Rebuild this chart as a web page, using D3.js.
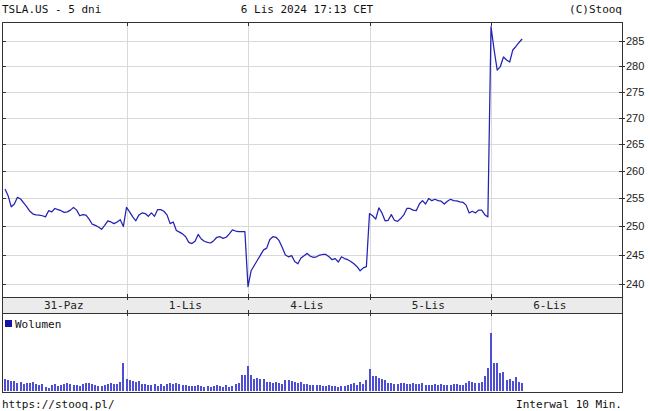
<!DOCTYPE html>
<html><head><meta charset="utf-8">
<script src="https://cdn.jsdelivr.net/npm/d3@7"></script>
<style>body{margin:0;background:#fff}svg{display:block}</style>
</head><body>
<script>
const dayLabels = ["31-Paz","1-Lis","4-Lis","5-Lis","6-Lis"];
const barsPerDay = 39;
const yTicks = [240,245,250,255,260,265,270,275,280,285];
const price = [
// 31-Paz
256.7,255.5,253.5,254.0,255.2,254.9,254.2,253.5,252.7,252.2,252.05,252.0,251.9,251.7,252.8,252.6,253.2,253.0,252.8,252.5,
252.6,252.9,253.4,252.9,251.9,252.1,252.0,251.3,250.4,250.2,249.9,249.5,250.2,251.0,250.8,250.5,250.8,251.2,250.0,
// 1-Lis
253.4,252.6,251.7,251.0,252.05,252.4,252.3,251.8,252.4,251.8,253.0,253.0,252.7,252.05,250.5,250.8,249.3,249.0,248.7,248.2,
247.2,247.0,247.4,248.6,247.8,247.4,247.2,247.1,247.5,248.1,248.2,247.9,248.1,248.7,249.4,249.2,249.1,249.1,249.1,
// 4-Lis
239.6,242.3,243.2,244.1,245.0,245.9,246.2,247.7,248.2,248.1,247.5,246.3,245.0,244.7,244.9,243.9,243.5,244.5,244.9,245.3,
244.8,244.6,244.7,245.0,245.1,245.1,244.7,244.2,244.4,243.8,244.7,244.4,244.2,243.9,243.5,243.0,242.3,242.8,243.0,
// 5-Lis
252.3,251.9,251.3,253.3,252.4,251.0,251.1,252.1,251.1,250.9,251.4,252.05,253.2,253.2,252.9,252.8,254.0,254.6,254.0,255.0,
254.6,254.85,254.6,254.5,254.0,254.5,254.85,254.6,254.55,254.4,254.3,253.8,252.4,252.7,252.4,252.9,252.9,252.1,251.7,
// 6-Lis
287.9,283.2,279.2,279.9,281.8,281.2,280.8,283.2,283.9,284.7,285.4
];
const volume = [
// 31-Paz (thousands)
1800,1650,1500,1500,1200,1350,1050,1200,1200,1350,1050,900,1050,600,450,900,1050,750,900,1050,
1200,1050,900,900,750,1050,1200,1200,1050,900,750,750,900,1050,1200,1050,1050,1350,4200,
// 1-Lis
1800,1650,1500,1350,1500,1050,1050,900,900,1050,750,1050,750,1050,1200,1050,1200,1050,900,900,
750,750,750,900,750,600,750,600,750,900,750,600,900,600,750,1050,1200,2400,2400,
// 4-Lis
3750,2400,1800,1950,1800,1800,1350,1350,1200,1350,1200,1050,1650,1650,1500,1350,1200,1350,1050,1050,
900,900,900,900,750,750,900,750,750,600,750,750,900,1050,1200,900,1350,1050,1650,
// 5-Lis
3300,2250,2250,1950,1800,1650,1200,1200,1050,1050,1200,1200,1050,1050,1200,1050,1050,1200,900,900,
900,1050,900,1050,900,900,900,1050,1050,900,900,1200,1500,1350,1200,1200,1350,2250,3450,
// 6-Lis
8700,4200,4200,2700,2850,1650,1800,1500,2100,1350,1200
];

const W = 650, H = 411;
const L = 2, R = 622;
const pTop = 22, pBot = 297, bandBot = 313, vBot = 392;
const svg = d3.select("body").append("svg").attr("width", W).attr("height", H)
  .style("font-family", "'DejaVu Sans Mono', monospace");

const x = d3.scaleLinear().domain([0, barsPerDay * 5]).range([5, 5 + barsPerDay * 5 * 3.1154]);
const y = d3.scaleLog().domain([237.85, 288.85]).range([pBot, pTop]);
const yv = d3.scaleLinear().domain([0, 11700]).range([vBot - 1, pBot + 16]);

const grid = "#d9d9d9", frame = "#333";
const dayStarts = [1, 2, 3, 4].map(d => x(d * barsPerDay));

// horizontal gridlines
svg.append("g").selectAll("line").data(yTicks).join("line")
  .attr("x1", L).attr("x2", R).attr("y1", d => Math.round(y(d)) + 0.5).attr("y2", d => Math.round(y(d)) + 0.5)
  .attr("stroke", grid);
// vertical gridlines (price + volume)
svg.append("g").selectAll("line").data(dayStarts).join("line")
  .attr("x1", d => Math.round(d) + 0.5).attr("x2", d => Math.round(d) + 0.5)
  .attr("y1", pTop).attr("y2", pBot).attr("stroke", grid);
svg.append("g").selectAll("line").data(dayStarts).join("line")
  .attr("x1", d => Math.round(d) + 0.5).attr("x2", d => Math.round(d) + 0.5)
  .attr("y1", bandBot).attr("y2", vBot).attr("stroke", grid);

// volume bars
svg.append("g").selectAll("rect").data(volume).join("rect")
  .attr("x", (d, i) => Math.round(x(i)) - 1).attr("width", 2)
  .attr("y", d => yv(d)).attr("height", d => (vBot - 1) - yv(d))
  .attr("fill", "#4e4ed2");

// price line
svg.append("path").datum(price)
  .attr("d", d3.line().x((d, i) => x(i)).y(d => y(d)))
  .attr("fill", "none").attr("stroke", "#2222b4").attr("stroke-width", 1.25)
  .attr("stroke-linejoin", "round");

// band
svg.append("rect").attr("x", L + 0.5).attr("y", pBot + 0.5).attr("width", R - L).attr("height", bandBot - pBot)
  .attr("fill", "#ebebeb").attr("stroke", frame);
// frames
svg.append("rect").attr("x", L + 0.5).attr("y", pTop + 0.5).attr("width", R - L).attr("height", pBot - pTop)
  .attr("fill", "none").attr("stroke", frame);
svg.append("rect").attr("x", L + 0.5).attr("y", bandBot + 0.5).attr("width", R - L).attr("height", vBot - bandBot)
  .attr("fill", "none").attr("stroke", frame);

// day ticks
const tk = svg.append("g").attr("stroke", frame);
dayStarts.forEach(d => {
  const xx = Math.round(d) + 0.5;
  tk.append("line").attr("x1", xx).attr("x2", xx).attr("y1", pTop).attr("y2", pTop + 4);
  tk.append("line").attr("x1", xx).attr("x2", xx).attr("y1", pBot - 3).attr("y2", pBot + 3);
  tk.append("line").attr("x1", xx).attr("x2", xx).attr("y1", bandBot - 3).attr("y2", bandBot + 3);
});
// y ticks on both sides
yTicks.forEach(v => {
  const yy = Math.round(y(v)) + 0.5;
  tk.append("line").attr("x1", R - 3).attr("x2", R + 3).attr("y1", yy).attr("y2", yy);
  tk.append("line").attr("x1", L).attr("x2", L + 4).attr("y1", yy).attr("y2", yy);
});

// y labels
svg.append("g").selectAll("text").data(yTicks).join("text")
  .attr("x", 626).attr("y", d => y(d) + 4).text(d => d)
  .style("font-family", "'Liberation Sans', Arial, sans-serif").style("font-size", "11px").attr("fill", "#222");

// day labels
svg.append("g").selectAll("text").data(dayLabels).join("text")
  .attr("x", (d, i) => x(i * barsPerDay + barsPerDay / 2) - 2).attr("y", bandBot - 4)
  .attr("text-anchor", "middle").style("font-size", "11px").attr("fill", "#222").text(d => d);

// header / footer
const t = (tx, xx, yy, anchor) => svg.append("text").attr("x", xx).attr("y", yy)
  .attr("text-anchor", anchor).style("font-size", "11px").attr("fill", "#111").text(tx);
t("TSLA.US - 5 dni", 2, 13, "start");
t("6 Lis 2024 17:13 CET", 307, 13, "middle");
t("(C)Stooq", 622, 13, "end");
t("https://stooq.pl/", 2, 408, "start");
t("Interwal 10 Min.", 622, 408, "end");

// legend
svg.append("rect").attr("x", 5).attr("y", 320).attr("width", 7).attr("height", 7).attr("fill", "#1414a8");
t("Wolumen", 15, 328, "start");
</script>
</body></html>
